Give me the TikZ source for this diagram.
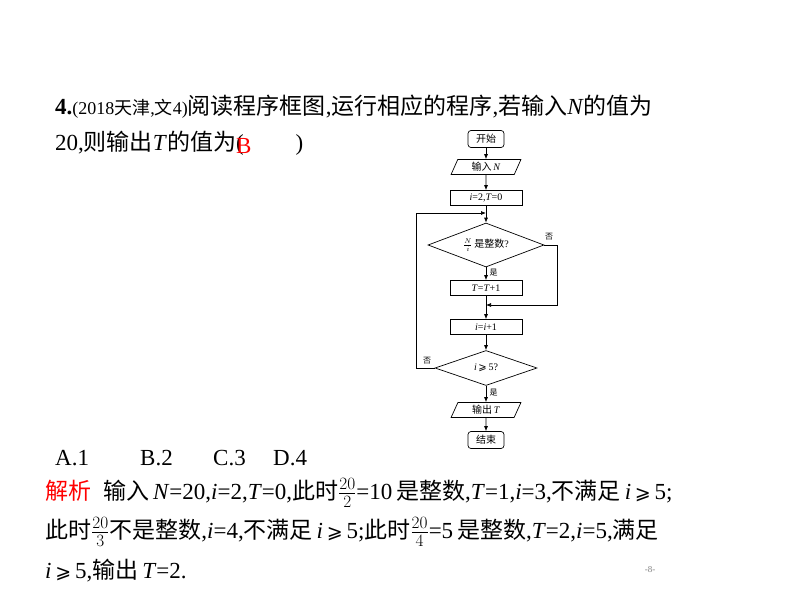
\documentclass[tikz,border=0pt]{standalone}
\usepackage{fontspec}
\setmainfont{Liberation Serif}
\newfontfamily\cjk{Noto Sans CJK SC}
\newcommand\zh[1]{{\cjk #1}}
\newcommand\mygeq{{\fontspec{DejaVu Sans}\fontsize{19}{22}\selectfont ⩾}}
\usetikzlibrary{shapes.geometric,arrows.meta}
\begin{document}
\begin{tikzpicture}[x=1pt,y=-1pt,
  box/.style={draw,line width=0.7pt,minimum height=15pt,inner sep=1pt,font=\fontsize{10}{11}\selectfont},
  term/.style={box,rounded corners=3pt,minimum width=36pt,minimum height=17pt},
  proc/.style={box,minimum width=72pt},
  io/.style={box,trapezium,trapezium left angle=72,trapezium right angle=108,minimum width=70pt,trapezium stretches=true,minimum height=15pt},
  dec/.style={box,diamond,aspect=2.7,inner sep=0pt},
  arr/.style={-{Latex[length=5pt,width=4pt]},line width=0.7pt},
  lab/.style={font=\cjk\fontsize{8}{9}\selectfont},
  big/.style={font=\fontsize{23}{26}\selectfont,anchor=west,inner sep=0}]
\useasboundingbox (0,0) rectangle (794,596);
% question
\node[big] (q1) at (55,107) {\textbf{4.}{\fontsize{18}{20}\selectfont(2018\zh{天津},\zh{文}4)}\zh{阅读程序框图},\zh{运行相应的程序},\zh{若输入}\textit{N}\zh{的值为}};
\node[big] (q2) at (55,143) {20,\zh{则输出}\textit{T}\zh{的值为}(\hspace{52pt})};
\node[big,text=red] (ans) at (236,146) {B};
\node[big] (a1) at (55,458) {A.1};
\node[big] (a2) at (140,458) {B.2};
\node[big] (a3) at (213,458) {C.3};
\node[big] (a4) at (273,458) {D.4};
\node[big] (s1) at (45,493) {\textcolor{red}{\zh{解析}}\hspace{12pt}\zh{输入}\,\textit{N}=20,\textit{i}=2,\textit{T}=0,\zh{此时}$\frac{20}{2}$=10\,\zh{是整数},\textit{T}=1,\textit{i}=3,\zh{不满足}\,\textit{i}\,\mygeq\,5;};
\node[big] (s2) at (45,532) {\zh{此时}$\frac{20}{3}$\zh{不是整数},\textit{i}=4,\zh{不满足}\,\textit{i}\,\mygeq\,5;\zh{此时}$\frac{20}{4}$=5\,\zh{是整数},\textit{T}=2,\textit{i}=5,\zh{满足}};
\node[big] (s3) at (45,571) {\textit{i}\,\mygeq\,5,\zh{输出}\,\textit{T}=2.};
\node[text=gray,font=\fontsize{9}{10}\selectfont] (pg) at (650,570) {-8-};
% flowchart
\node[term] (start) at (486,139) {\zh{开始}};
\node[io] (in) at (486,167) {\zh{输入}\,\textit{N}};
\node[proc] (init) at (486,198) {\textit{i}=2,\textit{T}=0};
\node[dec,minimum width=116pt,minimum height=44pt] (d1) at (486,245) {$\frac{N}{i}$\,\zh{是整数}?};
\node[proc] (inc) at (486,288) {\textit{T}=\textit{T}+1};
\node[proc] (ii) at (486,327) {\textit{i}=\textit{i}+1};
\node[dec,minimum width=102pt,minimum height=35pt] (d2) at (486,368) {\textit{i}\,{\fontspec{DejaVu Sans}⩾}\,5?};
\node[io] (out) at (486,410) {\zh{输出}\,\textit{T}};
\node[term] (end) at (486,440) {\zh{结束}};
\coordinate (top) at (486,213);
\coordinate (mid) at (486,305);
\draw[arr] (start) -- (in);
\draw[arr] (in) -- (init);
\draw[arr] (init) -- (d1);
\draw[arr] (d1) -- node[lab,right,pos=0.4]{是} (inc);
\draw[arr] (inc) -- (ii);
\draw[arr] (d1.east) -- (557,245) |- (mid);
\node[lab] (no1) at (549,237) {否};
\draw[arr] (ii) -- (d2);
\draw[arr] (d2.west) -- (416,368) |- (top);
\node[lab] (no2) at (427,361) {否};
\draw[arr] (d2) -- node[lab,right,pos=0.4]{是} (out);
\draw[arr] (out) -- (end);
\end{tikzpicture}
\end{document}
